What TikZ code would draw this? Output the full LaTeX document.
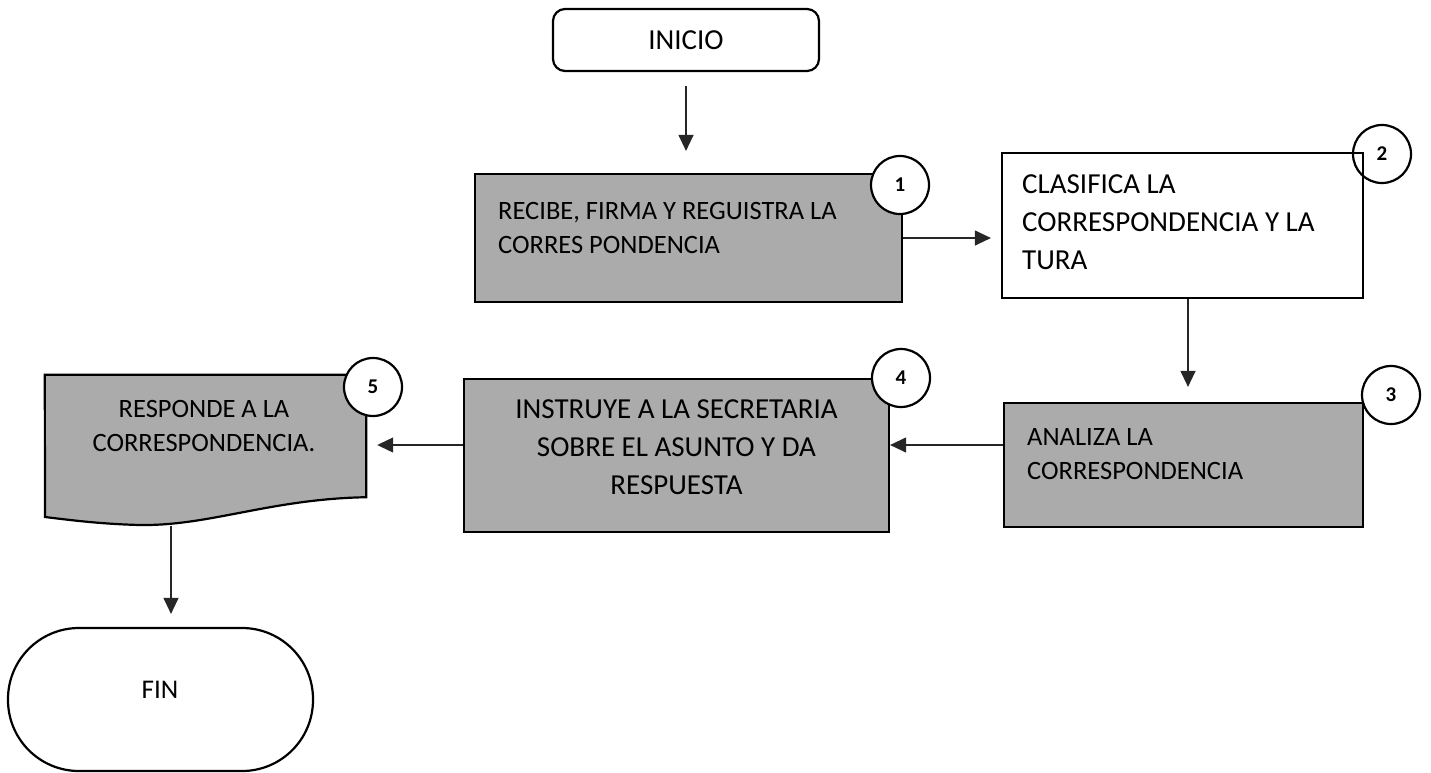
\documentclass[tikz,border=0pt]{standalone}
\usepackage{fontspec}
\setmainfont{Carlito}
\usetikzlibrary{arrows.meta}
\definecolor{boxgray}{RGB}{171,171,171}

\begin{document}
\begin{tikzpicture}[x=1pt, y=-1pt,
  box/.style={draw, line width=2.2pt, inner sep=0pt},
  graybox/.style={box, fill=boxgray},
  txt/.style={inner sep=0pt, font=\fontsize{26.5}{34}\selectfont},
  bigtxt/.style={inner sep=0pt, font=\fontsize{29}{38}\selectfont},
  num/.style={circle, draw, line width=2.2pt, fill=white, minimum size=58pt, inner sep=0pt, font=\fontsize{21}{21}\selectfont\bfseries},
  flow/.style={draw=black!85, line width=1.2pt, -{Triangle[length=16pt,width=15pt]}}]

\useasboundingbox (0,0) rectangle (1431,772);

% inicio
\node[box, rounded corners=12pt, minimum width=266pt, minimum height=62pt, bigtxt] (inicio) at (686,40) {INICIO};

% step 1
\node[graybox, minimum width=427pt, minimum height=128pt] (b1) at (688.5,238) {};
\node[txt, anchor=west, align=left] (t1) at (498,228) {RECIBE, FIRMA Y REGUISTRA LA\\CORRES PONDENCIA};

% step 2
\node[box, fill=white, minimum width=361pt, minimum height=145pt] (b2) at (1182.5,225.5) {};
\node[bigtxt, anchor=west, align=left] (t2) at (1022,222.5) {CLASIFICA LA\\CORRESPONDENCIA Y LA\\TURA};

% step 3
\node[graybox, minimum width=359pt, minimum height=124pt] (b3) at (1183.5,465) {};
\node[txt, anchor=west, align=left] (t3) at (1027,454.5) {ANALIZA LA\\CORRESPONDENCIA};

% step 4
\node[graybox, minimum width=425pt, minimum height=153pt] (b4) at (676.5,455.5) {};
\node[bigtxt, align=center] (t4) at (676.5,447.5) {INSTRUYE A LA SECRETARIA\\SOBRE EL ASUNTO Y DA\\RESPUESTA};

% step 5 (document)
\node[minimum width=321pt, minimum height=122pt, inner sep=0pt] (b5) at (205.5,436) {};
\draw[line width=2.2pt, fill=boxgray] (b5.north west) -- (b5.north east) -- (b5.south east)
  .. controls (270,499) and (210,526) .. (140,525)
  .. controls (100,524) and (70,520) .. (45,517) -- cycle;
\node[txt, align=center] (t5) at (204,426) {RESPONDE A LA\\CORRESPONDENCIA.};
\coordinate (w5) at (171,526);

% fin
\node[box, rounded corners=71pt, minimum width=305pt, minimum height=143pt] (fin) at (160.5,699.5) {};
\node[txt, font=\fontsize{27}{32}\selectfont] (tfin) at (160,690) {FIN};

% numbers
\node[num] (n1) at (900,185) {1};
\node[num, fill=none] (n2) at (1382,154) {2};
\node[num] (n3) at (1391,395) {3};
\node[num] (n4) at (901,378) {4};
\node[num] (n5) at (373,387) {5};

% arrows
\draw[flow, shorten <=14pt, shorten >=22pt] (inicio.south) -- (inicio.south |- b1.north);
\draw[flow, shorten >=10pt] (b1.east) -- (b1.east -| b2.west);
\draw[flow, shorten >=15pt] ([xshift=5.5pt]b2.south) -- ([xshift=5.5pt]b2.south |- b3.north);
\draw[flow] ([yshift=20pt]b3.west) -- ([yshift=20pt]b3.west -| b4.east);
\draw[flow, shorten >=11pt] ([yshift=10.5pt]b4.west) -- ([yshift=10.5pt]b4.west -| b5.east);
\draw[flow, shorten >=13pt] (w5) -- (w5 |- fin.north);
\end{tikzpicture}
\end{document}
